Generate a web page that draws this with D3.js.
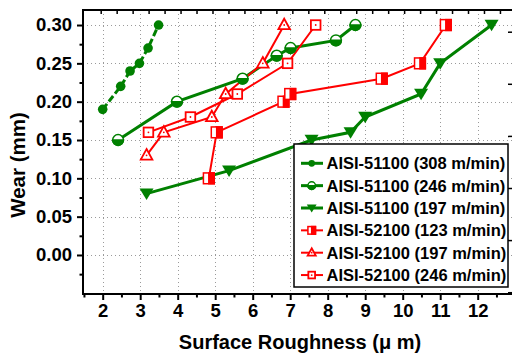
<!DOCTYPE html>
<html><head><meta charset="utf-8">
<script src="https://cdn.jsdelivr.net/npm/d3@7/dist/d3.min.js"></script>
<style>
html,body{margin:0;padding:0;background:#fff;overflow:hidden}
text{font-family:"Liberation Sans",Arial,sans-serif;font-weight:bold;fill:#000}
</style></head><body>
<svg id="c" width="512" height="356"></svg>
<script>
// ---- data ----
const xTicks = [2,3,4,5,6,7,8,9,10,11,12];
const yTicks = [0.00,0.05,0.10,0.15,0.20,0.25,0.30];
const names = ["AISI-51100 (308 m/min)","AISI-51100 (246 m/min)","AISI-51100 (197 m/min)",
               "AISI-52100 (123 m/min)","AISI-52100 (197 m/min)","AISI-52100 (246 m/min)"];
const s1x = [2.00,2.48,2.73,2.98,3.21,3.49];
const s1y = [0.19,0.22,0.24,0.25,0.27,0.30];
const s2x = [2.41,3.98,5.73,6.64,7.01,8.22,8.74];
const s2y = [0.15,0.20,0.23,0.26,0.27,0.28,0.30];
const s3x = [3.17,5.37,7.57,8.61,9.00,10.49,11.00,12.37];
const s3y = [0.08,0.11,0.15,0.16,0.18,0.21,0.25,0.30];
const s4x = [4.83,5.04,6.82,7.00,9.44,10.46,11.15];
const s4y = [0.10,0.16,0.20,0.21,0.23,0.25,0.30];
const s5x = [3.17,3.63,4.91,5.28,6.27,6.84];
const s5y = [0.13,0.16,0.18,0.21,0.25,0.30];
const s6x = [3.22,4.34,5.59,6.93,7.68];
const s6y = [0.16,0.18,0.21,0.25,0.30];

const GREEN = "#008000", RED = "#ff0000";
const series = [
  {name:names[0], xs:s1x, ys:s1y, color:GREEN, lw:3, dash:"7,3", marker:"circle"},
  {name:names[1], xs:s2x, ys:s2y, color:GREEN, lw:3, dash:null, marker:"halfcircle"},
  {name:names[2], xs:s3x, ys:s3y, color:GREEN, lw:3, dash:null, marker:"downtri"},
  {name:names[3], xs:s4x, ys:s4y, color:RED, lw:2, dash:null, marker:"halfsquare"},
  {name:names[4], xs:s5x, ys:s5y, color:RED, lw:2, dash:null, marker:"opentri"},
  {name:names[5], xs:s6x, ys:s6y, color:RED, lw:2, dash:null, marker:"opensquare"}
];

// ---- layout ----
const L = 83, R = 514, T = 10, B = 294;
const x = d3.scaleLinear().domain([1.475, 2 + (R - 102.7) / 37.5]).range([L, R]);
const y = d3.scaleLinear().domain([-0.0509, 0.3196]).range([B, T]);
const svg = d3.select("#c");

// grid
const grid = svg.append("g").attr("stroke","#9a9a9a").attr("stroke-width",1).attr("stroke-dasharray","1,3");
grid.selectAll(".gx").data(xTicks).join("line")
  .attr("x1",d=>Math.round(x(d))+0.5).attr("x2",d=>Math.round(x(d))+0.5).attr("y1",T).attr("y2",B);
grid.selectAll(".gy").data(yTicks).join("line")
  .attr("y1",d=>Math.round(y(d))+0.5).attr("y2",d=>Math.round(y(d))+0.5).attr("x1",L).attr("x2",R);

// lines
const line = d3.line().x(d=>x(d[0])).y(d=>y(d[1]));
series.forEach(s=>{
  const pts = s.xs.map((v,i)=>[v,s.ys[i]]);
  svg.append("path").attr("d",line(pts)).attr("fill","none").attr("stroke",s.color)
    .attr("stroke-width",s.lw).attr("stroke-dasharray",s.dash);
});

// markers
function drawMarker(g, type, color, scale){
  const k = scale || 1;
  if(type==="circle"){
    g.append("circle").attr("r",4.8*k).attr("fill",color);
  } else if(type==="halfcircle"){
    const r = 5.4*k;
    g.append("circle").attr("r",r).attr("fill","#fff").attr("stroke",color).attr("stroke-width",1.5);
    g.append("path").attr("d",`M${-r},0A${r},${r} 0 0 0 ${r},0Z`).attr("fill",color).attr("stroke",color).attr("stroke-width",1.5);
  } else if(type==="downtri"){
    const w = 7*k, h = 11.5*k;
    g.append("path").attr("d",`M${-w},${-h*0.45}L${w},${-h*0.45}L0,${h*0.55}Z`).attr("fill",color);
  } else if(type==="halfsquare"){
    const a = 5.4*k;
    g.append("rect").attr("x",-a).attr("y",-a).attr("width",2*a).attr("height",2*a)
      .attr("fill","#fff").attr("stroke",color).attr("stroke-width",1.5);
    g.append("rect").attr("x",0).attr("y",-a).attr("width",a).attr("height",2*a).attr("fill",color)
      .attr("stroke",color).attr("stroke-width",1.5);
  } else if(type==="opentri"){
    const w = 5.8*k, h = 10.5*k;
    g.append("path").attr("d",`M0,${-h*0.6}L${w},${h*0.4}L${-w},${h*0.4}Z`)
      .attr("fill","#fff").attr("stroke",color).attr("stroke-width",1.8);
    g.append("circle").attr("r",0.9).attr("fill",color);
  } else if(type==="opensquare"){
    const a = 4.8*k;
    g.append("rect").attr("x",-a).attr("y",-a).attr("width",2*a).attr("height",2*a)
      .attr("fill","#fff").attr("stroke",color).attr("stroke-width",1.8);
    g.append("circle").attr("r",0.9).attr("fill",color);
  }
}
series.forEach(s=>{
  s.xs.forEach((v,i)=>{
    const g = svg.append("g").attr("transform",`translate(${x(v)},${y(s.ys[i])})`);
    drawMarker(g, s.marker, s.color, 1);
  });
});

// frame
svg.append("rect").attr("x",L).attr("y",T).attr("width",R-L).attr("height",B-T)
  .attr("fill","none").attr("stroke","#000").attr("stroke-width",2);

// bottom axis
const xMinor = d3.range(1.5, 13, 0.5).filter(v=>v>=x.domain()[0] && v<=x.domain()[1] && Math.abs(v-Math.round(v))>0.01);
const bx = svg.append("g").attr("transform",`translate(0,${B})`);
bx.call(d3.axisBottom(x).tickValues(xTicks).tickSize(6).tickPadding(4).tickFormat(d3.format("d")));
bx.select(".domain").remove();
bx.selectAll("line").attr("stroke-width",2);
bx.selectAll("text").attr("font-size",18.5).attr("font-family",null);
const bxm = svg.append("g").attr("transform",`translate(0,${B})`);
bxm.call(d3.axisBottom(x).tickValues(xMinor).tickSize(3.5).tickFormat(""));
bxm.select(".domain").remove();
bxm.selectAll("line").attr("stroke-width",2);

// left axis
const yMinor = d3.range(-0.025, 0.32, 0.05);
const ly = svg.append("g").attr("transform",`translate(${L},0)`);
ly.call(d3.axisLeft(y).tickValues(yTicks).tickSize(6).tickPadding(5).tickFormat(d3.format(".2f")));
ly.select(".domain").remove();
ly.selectAll("line").attr("stroke-width",2);
ly.selectAll("text").attr("font-size",18.5).attr("font-family",null);
const lym = svg.append("g").attr("transform",`translate(${L},0)`);
lym.call(d3.axisLeft(y).tickValues(yMinor).tickSize(3.5).tickFormat(""));
lym.select(".domain").remove();
lym.selectAll("line").attr("stroke-width",2);

// top axis (separate layer scale, inward ticks)
const xt = d3.scaleLinear().domain([(L-100.7)/15.97, (R-100.7)/15.97]).range([L,R]);
const tTicks = d3.range(0, 26);
const tx = svg.append("g").attr("transform",`translate(0,${T})`);
tx.call(d3.axisBottom(xt).tickValues(tTicks).tickSize(4).tickFormat(""));
tx.select(".domain").remove();
tx.selectAll("line").attr("stroke-width",1.5);

// right axis (separate layer scale, inward ticks)
const yr = d3.scaleLinear().domain([0,1]).range([31.7, 83.8]);
const rTicks = [0,1,2,3,4,5];
const ry = svg.append("g").attr("transform",`translate(512.5,0)`);
ry.call(d3.axisLeft(yr).tickValues(rTicks).tickSize(4.5).tickFormat(""));
ry.select(".domain").remove();
ry.selectAll("line").attr("stroke-width",1.5);

// axis titles
svg.append("text").attr("x",300).attr("y",349).attr("text-anchor","middle").attr("font-size",20)
  .text("Surface Roughness (\u03bc m)");
svg.append("text").attr("transform","translate(25,165) rotate(-90)").attr("text-anchor","middle")
  .attr("font-size",20.5).text("Wear (mm)");

// legend
const lg = svg.append("g");
lg.append("rect").attr("x",294).attr("y",144).attr("width",214).attr("height",143)
  .attr("fill","#fff").attr("stroke","#000").attr("stroke-width",1.5);
series.forEach((s,i)=>{
  const cy = 163.3 + i*22.35;
  lg.append("line").attr("x1",301).attr("x2",323).attr("y1",cy).attr("y2",cy)
    .attr("stroke",s.color).attr("stroke-width",s.lw);
  const g = lg.append("g").attr("transform",`translate(311.7,${cy})`);
  drawMarker(g, s.marker, s.color, 0.7);
  lg.append("text").attr("x",326.5).attr("y",cy+6).attr("font-size",16.5).text(s.name);
});
</script>
</body></html>
